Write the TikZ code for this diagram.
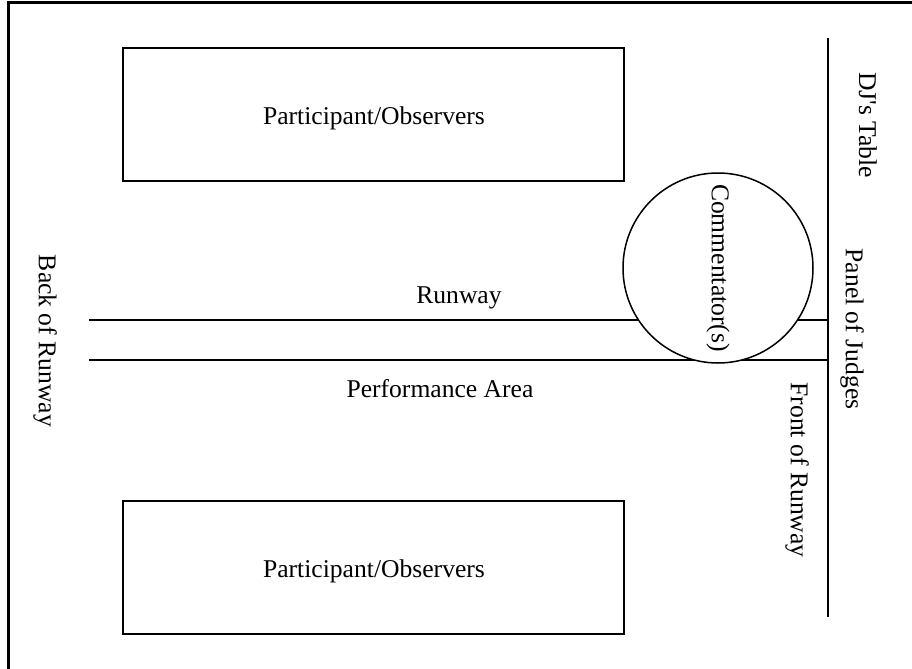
\documentclass[tikz,border=0pt]{standalone}
\usepackage{fontspec}
\setmainfont{Liberation Serif}
\begin{document}
\begin{tikzpicture}[x=0.5pt,y=-0.5pt,line width=0.75pt,
  font=\fontsize{12.8}{15}\selectfont,
  side/.style={rotate=-90,inner sep=0pt}]
\useasboundingbox (0,0) rectangle (912,669);
\draw [line width=1.5pt] (8.5,669) -- (8.5,2.5) -- (912,2.5);

% seating on both sides
\foreach \y/\name in {0/top,453/bottom}{
  \draw (123,48+\y) rectangle (624,181+\y);
  \node (\name) at (374,118+\y) {Participant/Observers};
}

% runway and judges line
\coordinate (back1) at (89,320);
\coordinate (back2) at (89,360);
\draw (back1) -- (828,320) (back2) -- (828,360);
\draw (828,38) -- (828,617);

\node [draw,circle,fill=white,minimum size=95pt,inner sep=0pt,rotate=-90] (comm) at (718,268) {Commentator(s)};

\node (runway) at (459,298) {Runway};
\node (perf) at (440,389) {Performance Area};
\node [side] (backlbl) at (45,341) {Back of Runway};
\node [side] (dj) at (868,125) {DJ\textquotesingle s Table};
\node [side] (judges) at (852,329) {Panel of Judges};
\node [side] (front) at (797,470) {Front of Runway};
\end{tikzpicture}
\end{document}
